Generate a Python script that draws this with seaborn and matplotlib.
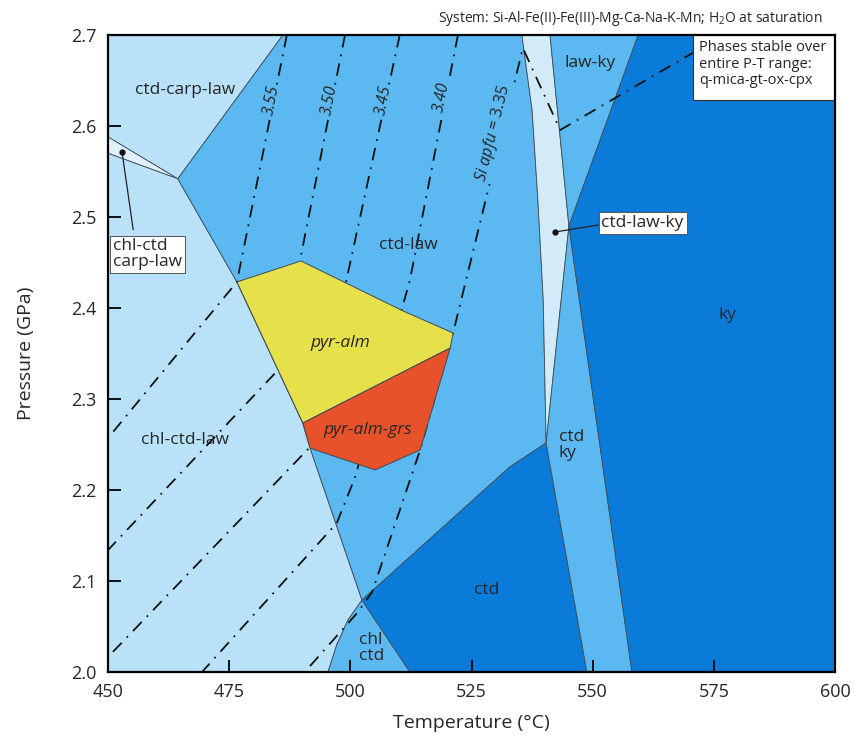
import seaborn as sns
import matplotlib.pyplot as plt
from matplotlib.patches import Rectangle

# ---- phase field polygons (Temperature in degC, Pressure in GPa) ----
ctd_carp_law_T = [450, 486.1, 464.4, 450]
ctd_carp_law_P = [2.7, 2.7, 2.542, 2.588]

chl_ctd_carp_law_T = [450, 464.4, 450]
chl_ctd_carp_law_P = [2.588, 2.542, 2.570]

chl_ctd_law_T = [450, 464.4, 476.6, 490.2, 491.7, 502.4, 499.5, 497.2, 495.4, 450]
chl_ctd_law_P = [2.570, 2.542, 2.4286, 2.2736, 2.246, 2.079, 2.057, 2.030, 2.0, 2.0]

ctd_law_T = [486.1, 535.4, 537.5, 538.7, 539.8, 540.4, 532.9, 502.4, 491.7, 490.2, 476.6, 464.4]
ctd_law_P = [2.7, 2.7, 2.6176, 2.5187, 2.4088, 2.2517, 2.2253, 2.079, 2.246, 2.2736, 2.4286, 2.542]

chl_ctd_T = [502.4, 512.3, 495.4, 497.2, 499.5]
chl_ctd_P = [2.079, 2.0, 2.0, 2.030, 2.057]

ctd_T = [502.4, 532.9, 540.4, 548.8, 512.3]
ctd_P = [2.079, 2.2253, 2.2517, 2.0, 2.0]

ctd_law_ky_T = [535.4, 541.2, 545.1, 540.4, 539.8, 538.7, 537.5]
ctd_law_ky_P = [2.7, 2.7, 2.4901, 2.2517, 2.4088, 2.5187, 2.6176]

law_ky_T = [541.2, 559.4, 545.1]
law_ky_P = [2.7, 2.7, 2.4901]

ctd_ky_T = [545.1, 558.1, 548.8, 540.4]
ctd_ky_P = [2.4901, 2.0, 2.0, 2.2517]

ky_T = [559.4, 600, 600, 558.1, 545.1]
ky_P = [2.7, 2.7, 2.0, 2.0, 2.4901]

pyr_alm_T = [476.6, 489.8, 510.9, 521.2, 520.6, 490.2]
pyr_alm_P = [2.4286, 2.4517, 2.3967, 2.3725, 2.356, 2.2736]

pyr_alm_grs_T = [490.2, 520.6, 514.4, 505.1, 491.7]
pyr_alm_grs_P = [2.2736, 2.356, 2.244, 2.222, 2.246]

# ---- Si apfu isopleths ----
iso_355_T = [486.9, 476.6, 450]
iso_355_P = [2.7, 2.4286, 2.2571]
iso_350_T = [498.9, 485.1, 450]
iso_350_P = [2.7, 2.3319, 2.134]
iso_345_T = [510.2, 491.7, 450]
iso_345_P = [2.7, 2.2473, 2.0165]
iso_340_T = [522.2, 512.3, 501.0, 497.2, 469.4]
iso_340_P = [2.7, 2.4308, 2.2143, 2.1637, 2.0]
iso_335_T = [571.2, 543.3, 535.6, 521.2, 514.4, 504.5, 501.4, 490.6]
iso_335_P = [2.682, 2.5956, 2.6857, 2.3725, 2.244, 2.0879, 2.0648, 2.0]

iso_labels = ["3.55", "3.50", "3.45", "3.40"]
iso_label_T = [483.7, 495.7, 506.8, 518.8]
iso_label_P = [2.628, 2.628, 2.628, 2.632]

light = "#b9e1f7"
paler = "#dff0fa"
pale_strip = "#d3ebf8"
mid = "#5bb8f0"
dark = "#0b7bd9"
yellow = "#e6e04a"
red = "#e8522b"
edge = "#3d4b55"

sns.set_theme(style="white")
plt.rcParams['font.family'] = ['Open Sans', 'DejaVu Sans']
plt.rcParams['mathtext.fontset'] = 'custom'
plt.rcParams['mathtext.rm'] = 'Open Sans'
plt.rcParams['mathtext.it'] = 'Open Sans:italic'

fig = plt.figure(figsize=(8.55, 7.44), dpi=100)
ax = fig.add_axes([108 / 855, 72 / 744, 727 / 855, 637 / 744])
ax.set_axisbelow(False)

fields = [
    (ctd_carp_law_T, ctd_carp_law_P, light),
    (chl_ctd_carp_law_T, chl_ctd_carp_law_P, paler),
    (chl_ctd_law_T, chl_ctd_law_P, light),
    (ctd_law_T, ctd_law_P, mid),
    (chl_ctd_T, chl_ctd_P, mid),
    (ctd_T, ctd_P, dark),
    (ctd_law_ky_T, ctd_law_ky_P, pale_strip),
    (law_ky_T, law_ky_P, mid),
    (ctd_ky_T, ctd_ky_P, mid),
    (ky_T, ky_P, dark),
]
for T, P, c in fields:
    ax.fill(T, P, facecolor=c, edgecolor=edge, linewidth=0.6, zorder=1)

# isopleths (dash-dot)
for T, P in [(iso_355_T, iso_355_P), (iso_350_T, iso_350_P), (iso_345_T, iso_345_P),
             (iso_340_T, iso_340_P), (iso_335_T, iso_335_P)]:
    sns.lineplot(x=T, y=P, sort=False, estimator=None, ax=ax, color="#111111",
                 linewidth=1.3, linestyle=(0, (7, 4, 1, 4)), zorder=2)

ax.fill(pyr_alm_T, pyr_alm_P, facecolor=yellow, edgecolor=edge, linewidth=0.7, zorder=3)
ax.fill(pyr_alm_grs_T, pyr_alm_grs_P, facecolor=red, edgecolor=edge, linewidth=0.7, zorder=3)

for lab, t, p in zip(iso_labels, iso_label_T, iso_label_P):
    ax.text(t, p, lab, rotation=79, ha="center", va="center", fontsize=11.5, style="italic",
            bbox=dict(facecolor=mid, edgecolor="none", pad=0.5), zorder=4)
ax.text(529.6, 2.592, r"$\mathit{Si\ apfu}$ = 3.35", rotation=76, ha="center", va="center",
        fontsize=11.5, bbox=dict(facecolor=mid, edgecolor="none", pad=0.5), zorder=4)

# region labels
fs = 12.5
ax.text(465.9, 2.640, "ctd-carp-law", ha="center", va="center", fontsize=fs, zorder=5)
ax.text(511.9, 2.469, "ctd-law", ha="center", va="center", fontsize=fs, zorder=5)
ax.text(465.9, 2.255, "chl-ctd-law", ha="center", va="center", fontsize=fs, zorder=5)
ax.text(497.9, 2.3615, "pyr-alm", ha="center", va="center", fontsize=fs, style="italic", zorder=5)
ax.text(503.6, 2.266, "pyr-alm-grs", ha="center", va="center", fontsize=fs, style="italic", zorder=5)
ax.text(501.8, 2.0264, "chl\nctd", ha="left", va="center", fontsize=fs, linespacing=1.0, zorder=5)
ax.text(528.2, 2.090, "ctd", ha="center", va="center", fontsize=fs, zorder=5)
ax.text(543.0, 2.2494, "ctd\nky", ha="left", va="center", fontsize=fs, linespacing=1.0, zorder=5)
ax.text(577.9, 2.392, "ky", ha="center", va="center", fontsize=fs, zorder=5)
ax.text(549.4, 2.669, "law-ky", ha="center", va="center", fontsize=fs, zorder=5)

# labels with leader lines
ax.plot([452.9, 455.2], [2.5714, 2.486], color="#222222", lw=0.9, zorder=5)
ax.plot([452.9], [2.5714], "o", color="#111111", ms=3.5, zorder=6)
ax.text(451.0, 2.459, "chl-ctd\ncarp-law", ha="left", va="center", fontsize=fs, linespacing=1.0,
        bbox=dict(facecolor="white", edgecolor="#555555", lw=0.7, pad=2), zorder=6)

ax.plot([542.2, 551.1], [2.4835, 2.4912], color="#222222", lw=0.9, zorder=5)
ax.plot([542.2], [2.4835], "o", color="#111111", ms=3.5, zorder=6)
ax.text(551.8, 2.4934, "ctd-law-ky", ha="left", va="center", fontsize=fs,
        bbox=dict(facecolor="white", edgecolor="#555555", lw=0.7, pad=2), zorder=6)

ax.add_patch(Rectangle((0.8047, 0.898), 0.1953, 0.102, transform=ax.transAxes,
                       facecolor="white", edgecolor="#333333", lw=0.8, zorder=6))
ax.text(0.813, 0.992, "Phases stable over\nentire P-T range:\nq-mica-gt-ox-cpx",
        transform=ax.transAxes, ha="left", va="top", fontsize=10.5, linespacing=1.15, zorder=7)

ax.set_xlim(450, 600)
ax.set_ylim(2.0, 2.7)
ax.set_xticks([450, 475, 500, 525, 550, 575, 600])
ax.set_yticks([2.0, 2.1, 2.2, 2.3, 2.4, 2.5, 2.6, 2.7])
ax.set_yticklabels(["2.0", "2.1", "2.2", "2.3", "2.4", "2.5", "2.6", "2.7"])
ax.tick_params(axis="both", direction="in", length=9, width=1.3, labelsize=13,
               bottom=True, left=True, pad=8, color="black")
for s in ax.spines.values():
    s.set_color("black")
    s.set_linewidth(1.6)
    s.set_zorder(8)
ax.set_xlabel("Temperature (°C)", fontsize=14, labelpad=9)
ax.set_ylabel("Pressure (GPa)", fontsize=14, labelpad=26)

fig.text(822 / 855, 1 - 18 / 744, "System: Si-Al-Fe(II)-Fe(III)-Mg-Ca-Na-K-Mn; H$_2$O at saturation",
         ha="right", va="center", fontsize=10)

fig.savefig("out.png", dpi=100)
